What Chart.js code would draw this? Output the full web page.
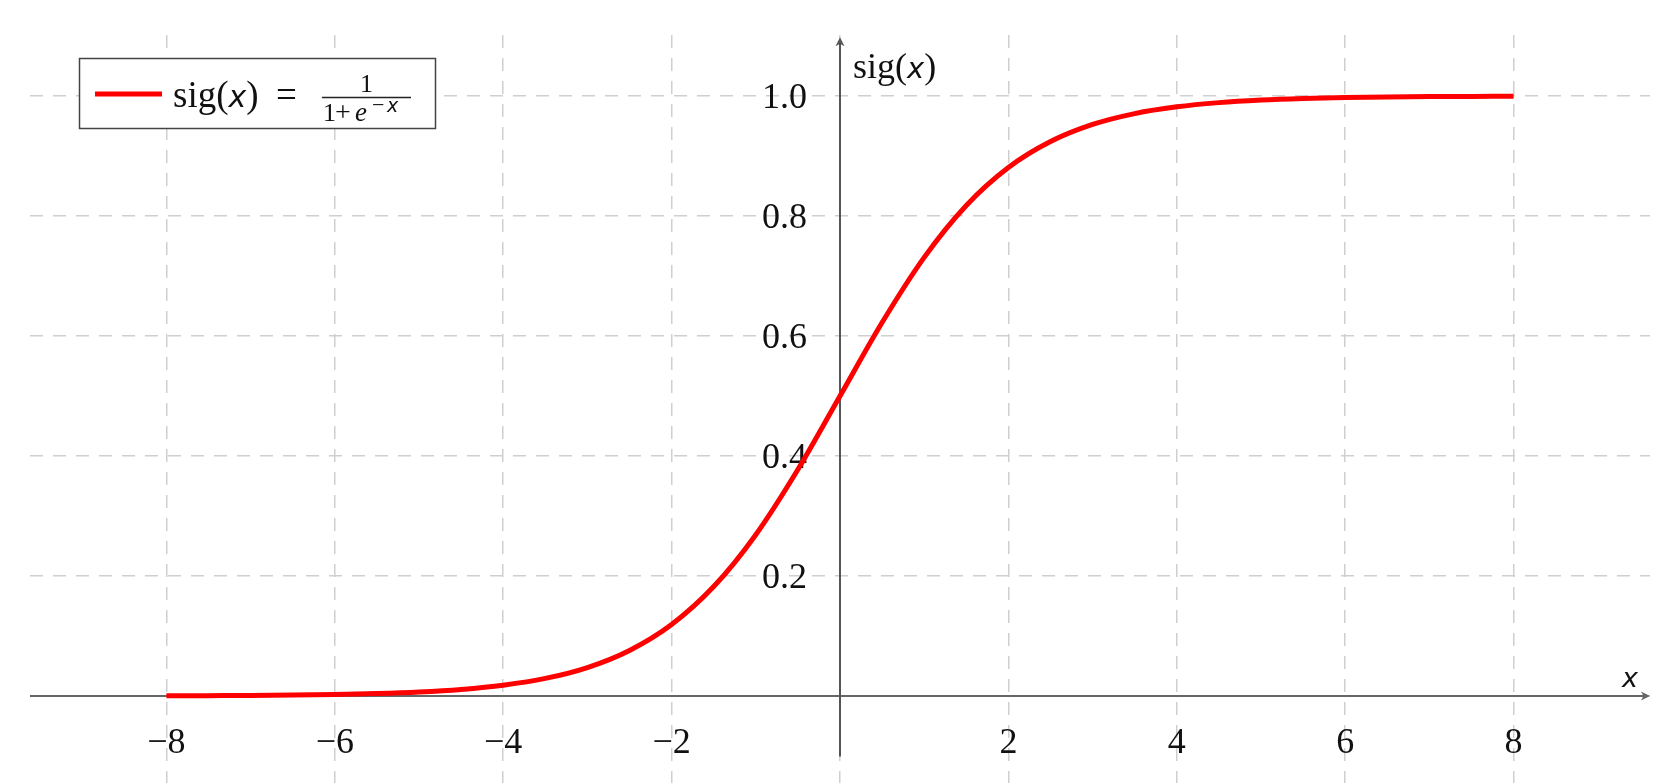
<!DOCTYPE html>
<html>
<head>
<meta charset="utf-8">
<title>Sigmoid</title>
<script src="https://cdn.jsdelivr.net/npm/chart.js@4.4.1/dist/chart.umd.min.js"></script>
<style>
    html, body { margin: 0; padding: 0; background: #fff; }
    #wrap { width: 1680px; height: 783px; }
</style>
</head>
<body>
<div id="wrap"><canvas id="sig-chart"></canvas></div>
<script>
/* sig(x) = 1 / (1 + e^-x) */

const X_VALUES = [
    -8, -7.5, -7, -6.5, -6, -5.5, -5, -4.5, -4, -3.5, -3, -2.5, -2, -1.5, -1, -0.5,
    0, 0.5, 1, 1.5, 2, 2.5, 3, 3.5, 4, 4.5, 5, 5.5, 6, 6.5, 7, 7.5, 8
];
const SIG_VALUES = [
    0.0003, 0.0006, 0.0009, 0.0015, 0.0025, 0.0041, 0.0067, 0.0110, 0.0180, 0.0293, 0.0474, 0.0759, 0.1192, 0.1824, 0.2689, 0.3775,
    0.5, 0.6225, 0.7311, 0.8176, 0.8808, 0.9241, 0.9526, 0.9707, 0.9820, 0.9890, 0.9933, 0.9959, 0.9975, 0.9985, 0.9991, 0.9994, 0.9997
];
const X_TICKS = [-8, -6, -4, -2, 0, 2, 4, 6, 8];
const X_TICK_LABELS = ['\u22128', '\u22126', '\u22124', '\u22122', '', '2', '4', '6', '8'];
const Y_TICKS = [0, 0.2, 0.4, 0.6, 0.8, 1.0];
const Y_TICK_LABELS = ['', '0.2', '0.4', '0.6', '0.8', '1.0'];

const SERIF = '"Liberation Serif", "DejaVu Serif", serif';
const SANS = '"DejaVu Sans", sans-serif';
const AXIS_COLOR = '#666';
const GRID_COLOR = '#cfcfcf';

// draw a run of [text, font] pieces left to right, return end x
function drawRun(ctx, parts, x, y) {
    parts.forEach(([txt, font]) => {
        ctx.font = font;
        ctx.fillText(txt, x, y);
        x += ctx.measureText(txt).width;
    });
    return x;
}

function arrowHead(ctx, x, y, dir) {
    // dir: 'up' or 'right'
    ctx.save();
    ctx.translate(x, y);
    if (dir === 'up') ctx.rotate(-Math.PI / 2);
    ctx.beginPath();
    ctx.moveTo(0, 0);
    ctx.lineTo(-9, -4.5);
    ctx.lineTo(-6.5, 0);
    ctx.lineTo(-9, 4.5);
    ctx.closePath();
    ctx.fill();
    ctx.restore();
}

const axesPlugin = {
    id: 'centerAxes',
    beforeDatasetsDraw(chart) {
        const ctx = chart.ctx;
        const xs = chart.scales.x, ys = chart.scales.y;
        const area = chart.chartArea;
        const x0 = xs.getPixelForValue(0);
        const y0 = ys.getPixelForValue(0);
        ctx.save();
        ctx.strokeStyle = AXIS_COLOR;
        ctx.fillStyle = AXIS_COLOR;
        ctx.lineWidth = 2;

        // x axis
        ctx.beginPath();
        ctx.moveTo(area.left, y0);
        ctx.lineTo(area.right - 4, y0);
        ctx.stroke();
        arrowHead(ctx, area.right, y0, 'right');

        // y axis
        const yBottom = ys.getPixelForValue(-0.101);
        const yTop = ys.getPixelForValue(1.098);
        ctx.strokeStyle = '#555';
        ctx.fillStyle = '#555';
        ctx.beginPath();
        ctx.moveTo(x0, yBottom);
        ctx.lineTo(x0, yTop + 4);
        ctx.stroke();
        arrowHead(ctx, x0, yTop, 'up');

        // tick labels
        ctx.fillStyle = '#111';
        ctx.font = '36px ' + SERIF;
        ctx.textBaseline = 'alphabetic';
        ctx.textAlign = 'center';
        X_TICKS.forEach((v, i) => {
            if (!X_TICK_LABELS[i]) return;
            ctx.fillText(X_TICK_LABELS[i], xs.getPixelForValue(v), y0 + 57);
        });
        ctx.textAlign = 'right';
        Y_TICKS.forEach((v, i) => {
            if (!Y_TICK_LABELS[i]) return;
            ctx.fillText(Y_TICK_LABELS[i], x0 - 33, ys.getPixelForValue(v) + 12);
        });

        // axis titles
        ctx.textAlign = 'left';
        drawRun(ctx, [
            ['sig(', '36px ' + SERIF],
            ['x', 'italic 29px ' + SANS],
            [')', '36px ' + SERIF],
        ], x0 + 13, 78);
        ctx.font = 'italic 27px ' + SANS;
        ctx.textAlign = 'center';
        ctx.fillText('x', area.right - 20, y0 - 9);
        ctx.restore();
    },
    afterDraw(chart) {
        const ctx = chart.ctx;
        const ds = chart.data.datasets[0];
        ctx.save();
        // legend box
        ctx.fillStyle = '#fff';
        ctx.fillRect(79, 58, 357, 71);
        ctx.strokeStyle = '#444';
        ctx.lineWidth = 1.5;
        ctx.strokeRect(79.5, 58.5, 356, 70);

        ctx.strokeStyle = ds.borderColor;
        ctx.lineWidth = 5;
        ctx.beginPath();
        ctx.moveTo(95, 94);
        ctx.lineTo(162, 94);
        ctx.stroke();

        ctx.fillStyle = '#111';
        ctx.textBaseline = 'alphabetic';
        ctx.textAlign = 'left';
        drawRun(ctx, [
            ['sig(', '37px ' + SERIF],
            ['x', 'italic 30px ' + SANS],
            [')', '37px ' + SERIF],
        ], 173, 107);
        ctx.font = '37px ' + SERIF;
        ctx.fillText('=', 276, 107);

        // fraction 1 / (1 + e^-x)
        const fl = 322, fr = 411;
        ctx.strokeStyle = '#222';
        ctx.lineWidth = 1.4;
        ctx.beginPath();
        ctx.moveTo(fl, 97.5);
        ctx.lineTo(fr, 97.5);
        ctx.stroke();
        ctx.font = '26px ' + SERIF;
        ctx.textAlign = 'center';
        ctx.fillText('1', (fl + fr) / 2, 92);
        ctx.textAlign = 'left';
        ctx.fillText('1', fl + 1, 121);
        ctx.font = '28px ' + SERIF;
        ctx.fillText('+', fl + 13, 121);
        ctx.font = 'italic 27px ' + SERIF;
        ctx.fillText('e', fl + 33, 121);
        ctx.font = '22px ' + SERIF;
        ctx.fillText('\u2212', fl + 50, 112);
        ctx.font = 'italic 19px ' + SANS;
        ctx.fillText('x', fl + 65, 112);
        ctx.restore();
    }
};

new Chart(document.getElementById('sig-chart').getContext('2d'), {
    type: 'line',
    data: {
        datasets: [{
            label: 'sig(x) = 1/(1+e^-x)',
            data: X_VALUES.map((x, i) => ({ x, y: SIG_VALUES[i] })),
            borderColor: '#ff0000',
            borderWidth: 5,
            pointRadius: 0,
            fill: false,
            cubicInterpolationMode: 'monotone',
        }],
    },
    options: {
        responsive: true,
        maintainAspectRatio: false,
        animation: false,
        layout: { padding: { left: 30, right: 30, top: 35, bottom: 0 } },
        plugins: { legend: { display: false }, tooltip: { enabled: false } },
        scales: {
            x: {
                type: 'linear',
                min: -9.62,
                max: 9.62,
                afterBuildTicks: s => { s.ticks = X_TICKS.map(v => ({ value: v })); },
                ticks: { display: false },
                grid: { color: GRID_COLOR, lineWidth: 1.5, drawTicks: false },
                border: { display: false, dash: [13, 10] },
            },
            y: {
                type: 'linear',
                min: -0.145,
                max: 1.1017,
                afterBuildTicks: s => { s.ticks = Y_TICKS.map(v => ({ value: v })); },
                ticks: { display: false },
                grid: { color: GRID_COLOR, lineWidth: 1.5, drawTicks: false },
                border: { display: false, dash: [13, 10] },
            },
        },
    },
    plugins: [axesPlugin],
});
</script>
</body>
</html>
